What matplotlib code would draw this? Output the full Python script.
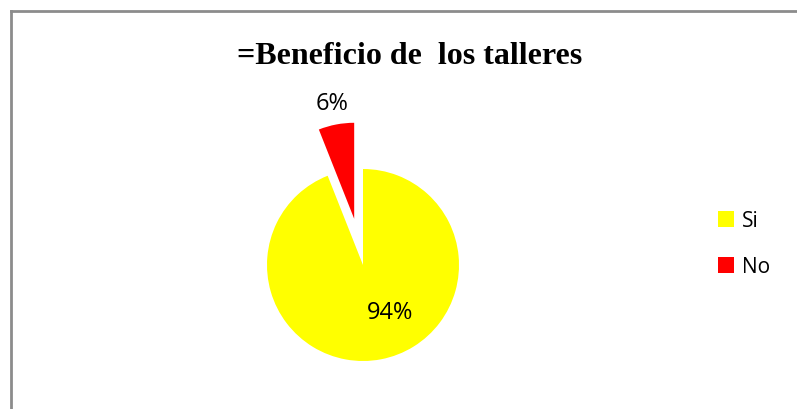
import matplotlib.pyplot as plt
from matplotlib.lines import Line2D

# Chart data
labels = ['Si', 'No']
values = [94, 6]
colors = ['#FFFF00', '#FF0000']
title = '=Beneficio de  los talleres'

W, H = 797, 410
fig = plt.figure(figsize=(W / 100, H / 100), dpi=100)

# gray frame (left and top edges visible, rest cut off)
fig.add_artist(Line2D([11 / W, 11 / W], [0, 1 - 12 / H], color='#8c8c8c', lw=2))
fig.add_artist(Line2D([11 / W, 1], [1 - 12 / H, 1 - 12 / H], color='#8c8c8c', lw=2))

# pie axes: centre at (363, 266) px, radius 96 px
cx, cy, r = 363, 266, 96
left, right, top, bottom = 163, 563, 20, 406
ax = fig.add_axes([left / W, 1 - bottom / H, (right - left) / W, (bottom - top) / H])
# No slice first so it sits just left of 12 o'clock
wedges, texts, autotexts = ax.pie(values[::-1], colors=colors[::-1], startangle=90,
                                  explode=[0.49, 0], autopct='%1.0f%%', pctdistance=1.23,
                                  radius=1, textprops={'fontsize': 17, 'family': 'Open Sans'})
autotexts[1].set_position((0.28, -0.49))
ax.set_aspect('auto')
ax.set_xlim(-(cx - left) / r, (right - cx) / r)
ax.set_ylim(-(bottom - cy) / r, (cy - top) / r)
ax.axis('off')

fig.text(410 / W, 1 - 56 / H, title, ha='center', va='center', fontsize=23,
         fontweight='bold', family='Liberation Serif')

leg = fig.legend(wedges[::-1], labels, loc='center left', bbox_to_anchor=(699 / W, 1 - 245 / H),
                 frameon=False, handlelength=0.8, handleheight=0.8, handletextpad=0.35,
                 labelspacing=1.2, prop={'family': 'Open Sans', 'size': 15})

fig.savefig('out.png', dpi=100)
